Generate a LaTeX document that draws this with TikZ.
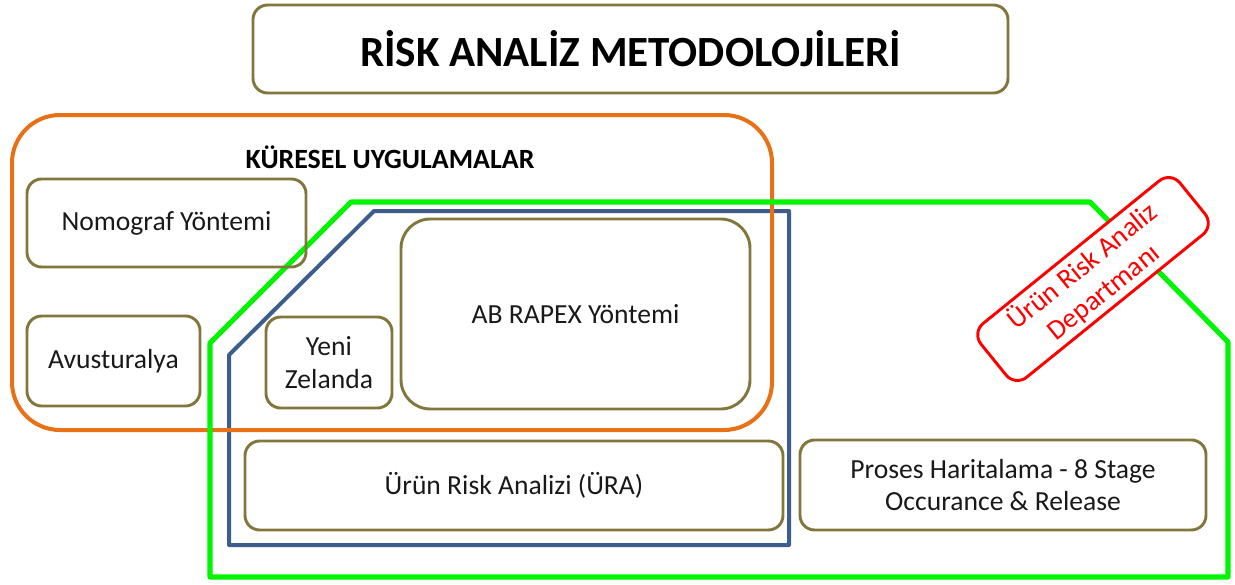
\documentclass[tikz,border=0pt]{standalone}
\usepackage{fontspec}
\setmainfont{Carlito}
\usepackage{tikz}

\definecolor{olivec}{RGB}{130,118,60}
\definecolor{orangec}{RGB}{232,112,22}
\definecolor{bluec}{RGB}{61,93,140}
\definecolor{greenc}{RGB}{0,245,0}
\definecolor{redc}{RGB}{255,0,0}

\tikzset{
  olivebox/.style={draw=olivec, line width=2.2pt, rounded corners=11pt},
  boxtext/.style={font=\fontsize{20.7}{24.5}\selectfont, align=center, text=black!90},
}

\begin{document}
\begin{tikzpicture}[x=0.75pt, y=-0.75pt]
        \useasboundingbox (0,0) rectangle (1235,585);
        % outer frames
        \draw[bluec, line width=3pt, line join=round] (229,545)--(229,355)--(374,211)--(789,211)--(789,545)--cycle;
        \draw[orangec, line width=3pt, rounded corners=36pt] (12,115) rectangle (772,430);
        \draw[greenc, line width=3.8pt, line join=round] (210,577)--(210,343)--(351,202)--(1090,202)--(1228,342)--(1228,577)--cycle;
        % title
        \draw[olivebox] (253,5) rectangle node[font=\bfseries\fontsize{32.3}{38}\selectfont] (baslik) {RİSK ANALİZ METODOLOJİLERİ} (1008,93);
        \node[font=\bfseries\fontsize{20.9}{24}\selectfont] (kuresel) at (390,157) {KÜRESEL UYGULAMALAR};
        % method boxes
        \draw[olivebox] (27,179) rectangle node[boxtext] (nomograf) {Nomograf Yöntemi} (306,267);
        \draw[olivebox] (27,316) rectangle node[boxtext] (avustralya) {Avusturalya} (200,406);
        \draw[olivebox] (266,317) rectangle node[boxtext] (zelanda) {Yeni\\Zelanda} (392,408);
        \draw[olivebox, rounded corners=22pt] (401,219) rectangle node[boxtext] (rapex) {AB RAPEX Yöntemi} (750,409);
        \draw[olivebox] (245,441) rectangle node[boxtext] (ura) {Ürün Risk Analizi (ÜRA)} (783,530);
        \draw[olivebox] (800,440) rectangle node[boxtext] (proses) {Proses Haritalama - 8 Stage\\Occurance \& Release} (1206,530);
        % department stamp
        \node[draw=redc, fill=white, line width=2.2pt, rounded corners=11pt, rotate=39,
              minimum width=192pt, minimum height=50pt, text=redc, align=center,
              font=\fontsize{21}{25}\selectfont] (departman) at (1093,279) {Ürün Risk Analiz\\Departmanı};
\end{tikzpicture}
\end{document}
